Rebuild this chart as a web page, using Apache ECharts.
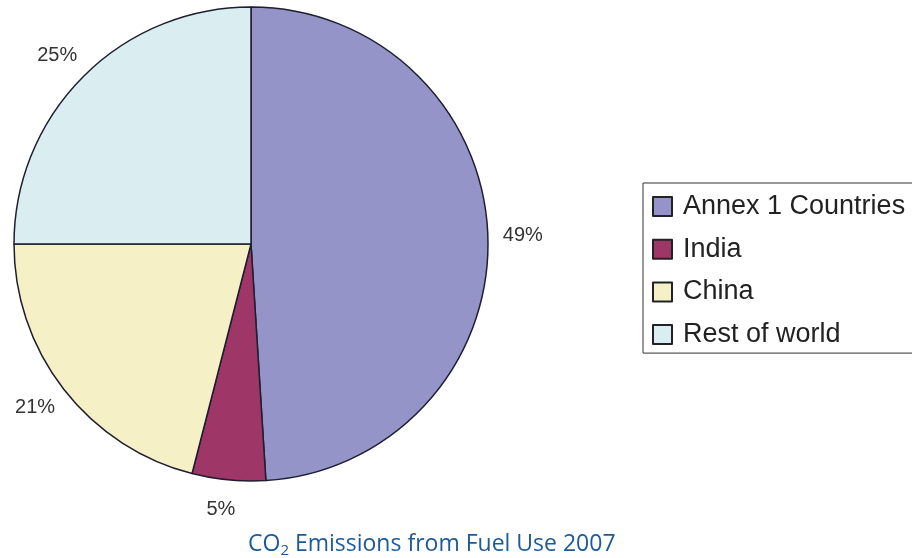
<!DOCTYPE html>
<html>
<head>
<meta charset="utf-8">
<script src="https://cdn.jsdelivr.net/npm/echarts@6/dist/echarts.min.js"></script>
<style>
  html, body { margin: 0; padding: 0; background: #ffffff; }
  #chart { width: 912px; height: 558px; }
</style>
</head>
<body>
<div id="chart"></div>
<script>
// Share of CO2 emissions from fuel use, 2007 (percent)
const categories = ['Annex 1 Countries', 'India', 'China', 'Rest of world'];
const shares = [49, 5, 21, 25];
const sliceColors = ['#9494c8', '#9e3768', '#f6f0c6', '#daeef1'];

const sansFont = 'Arial, "Liberation Sans", sans-serif';

const chart = echarts.init(document.getElementById('chart'));

chart.setOption({
  backgroundColor: '#ffffff',
  animation: false,
  title: {
    text: 'CO{sub|2} Emissions from Fuel Use 2007',
    left: 243,
    top: 526,
    textStyle: {
      fontFamily: 'Open Sans',
      fontSize: 23,
      fontWeight: 'normal',
      color: '#1d5a96',
      rich: {
        sub: {
          fontFamily: 'Open Sans',
          fontSize: 15,
          color: '#1d5a96',
          verticalAlign: 'bottom',
          padding: [12, 0, 0, 0]
        }
      }
    }
  },
  legend: {
    orient: 'vertical',
    left: 643,
    top: 183,
    data: categories,
    icon: 'rect',
    itemWidth: 19,
    itemHeight: 19,
    itemGap: 15.7,
    padding: [10, 60, 5, 9],
    borderColor: '#333333',
    borderWidth: 1,
    itemStyle: { borderColor: '#222222', borderWidth: 2 },
    textStyle: {
      fontFamily: sansFont,
      fontSize: 27,
      lineHeight: 27,
      color: '#222222',
      padding: [0, 0, 0, 6]
    }
  },
  series: [{
    type: 'pie',
    center: [251, 244],
    radius: 237,
    startAngle: 90,
    clockwise: true,
    data: categories.map((name, i) => ({
      name,
      value: shares[i],
      itemStyle: { color: sliceColors[i] }
    })),
    itemStyle: { borderColor: '#1e1e30', borderWidth: 1.5 },
    label: {
      show: true,
      position: 'outside',
      formatter: '{c}%',
      fontFamily: sansFont,
      fontSize: 20,
      color: '#333333',
      overflow: 'none'
    },
    labelLine: { show: false, length: 30, length2: 0 },
    labelLayout: function () {
      return { align: 'center', verticalAlign: 'middle' };
    },
    emphasis: { disabled: true }
  }]
});
</script>
</body>
</html>
